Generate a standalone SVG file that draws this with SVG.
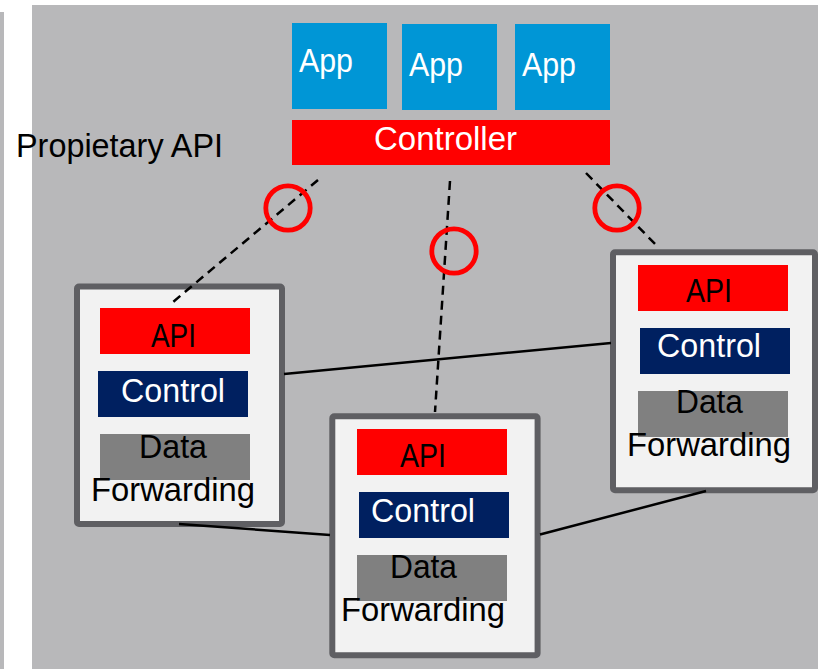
<svg xmlns="http://www.w3.org/2000/svg" width="818" height="669" viewBox="0 0 818 669">
  <style>
    text { font-family: "Liberation Sans", Arial, sans-serif; font-size: 33.5px; }
    .w { fill: #ffffff; }
    .k { fill: #000000; }
    .app { fill: #0096d6; }
    .red { fill: #ff0000; }
    .navy { fill: #002060; }
    .gray { fill: #808080; }
    .box { fill: #f2f2f2; stroke: #5f5f63; stroke-width: 6; }
    .dash { fill: none; stroke: #000000; stroke-width: 2.5; stroke-dasharray: 9 6; }
    .link { fill: none; stroke: #000000; stroke-width: 2.5; }
    .ring { fill: none; stroke: #ff0000; stroke-width: 4.8; }
  </style>

  <!-- backdrop -->
  <rect x="0" y="12" width="4" height="657" fill="#b8b8ba"/>
  <rect x="32" y="5" width="786" height="664" fill="#b8b8ba"/>

  <text class="k" x="16" y="157" textLength="207" lengthAdjust="spacingAndGlyphs">Propietary API</text>

  <!-- applications -->
  <g id="app1">
    <rect class="app" x="292" y="23" width="95" height="86"/>
    <text class="w" x="299" y="72" textLength="54" lengthAdjust="spacingAndGlyphs">App</text>
  </g>
  <g id="app2">
    <rect class="app" x="402" y="24" width="95" height="86"/>
    <text class="w" x="409" y="76" textLength="54" lengthAdjust="spacingAndGlyphs">App</text>
  </g>
  <g id="app3">
    <rect class="app" x="515" y="24" width="95" height="86"/>
    <text class="w" x="522" y="76" textLength="54" lengthAdjust="spacingAndGlyphs">App</text>
  </g>

  <!-- controller -->
  <g id="controller">
    <rect class="red" x="292" y="120" width="318" height="45"/>
    <text class="w" x="374" y="150" textLength="143" lengthAdjust="spacingAndGlyphs">Controller</text>
  </g>

  <!-- switches -->
  <g id="switch-left">
    <rect class="box" x="77" y="286.5" width="205" height="237.5" rx="2"/>
    <rect class="red" x="100" y="308" width="150" height="46"/>
    <text class="k" x="151" y="347" textLength="45" lengthAdjust="spacingAndGlyphs">API</text>
    <rect class="navy" x="98" y="371" width="150" height="46"/>
    <text class="w" x="121" y="402" textLength="104" lengthAdjust="spacingAndGlyphs">Control</text>
    <rect class="gray" x="100" y="434" width="150" height="46"/>
    <text class="k" x="139" y="458" textLength="68" lengthAdjust="spacingAndGlyphs">Data</text>
    <text class="k" x="91" y="501" textLength="164" lengthAdjust="spacingAndGlyphs">Forwarding</text>
  </g>

  <g id="switch-middle">
    <rect class="box" x="332.3" y="416.3" width="205.3" height="239" rx="2"/>
    <rect class="red" x="357" y="429" width="150" height="46"/>
    <text class="k" x="400" y="467" textLength="46" lengthAdjust="spacingAndGlyphs">API</text>
    <rect class="navy" x="359" y="492" width="150" height="46"/>
    <text class="w" x="371" y="522" textLength="104" lengthAdjust="spacingAndGlyphs">Control</text>
    <rect class="gray" x="357" y="555" width="150" height="46"/>
    <text class="k" x="390" y="578" textLength="67" lengthAdjust="spacingAndGlyphs">Data</text>
    <text class="k" x="341" y="621" textLength="164" lengthAdjust="spacingAndGlyphs">Forwarding</text>
  </g>

  <g id="switch-right">
    <rect class="box" x="613" y="252.3" width="202" height="238" rx="2"/>
    <rect class="red" x="638" y="265" width="150" height="46"/>
    <text class="k" x="686" y="302" textLength="46" lengthAdjust="spacingAndGlyphs">API</text>
    <rect class="navy" x="640" y="328" width="150" height="46"/>
    <text class="w" x="657" y="357" textLength="104" lengthAdjust="spacingAndGlyphs">Control</text>
    <rect class="gray" x="638" y="391" width="150" height="46"/>
    <text class="k" x="676" y="413" textLength="67" lengthAdjust="spacingAndGlyphs">Data</text>
    <text class="k" x="627" y="456" textLength="164" lengthAdjust="spacingAndGlyphs">Forwarding</text>
  </g>

  <!-- links -->
  <g id="connectors">
    <line class="dash" x1="318" y1="180" x2="173" y2="302"/>
    <line class="dash" x1="450" y1="181" x2="435" y2="412"/>
    <line class="dash" x1="586" y1="173" x2="656" y2="245"/>
    <line class="link" x1="284" y1="374" x2="611" y2="343"/>
    <line class="link" x1="179" y1="524" x2="330" y2="535"/>
    <line class="link" x1="540" y1="534.5" x2="706" y2="491"/>
  </g>

  <!-- highlighted API channels -->
  <g id="rings">
    <circle class="ring" cx="288" cy="208" r="22.2"/>
    <circle class="ring" cx="454" cy="251" r="22.2"/>
    <circle class="ring" cx="617" cy="208" r="22.2"/>
  </g>
</svg>
